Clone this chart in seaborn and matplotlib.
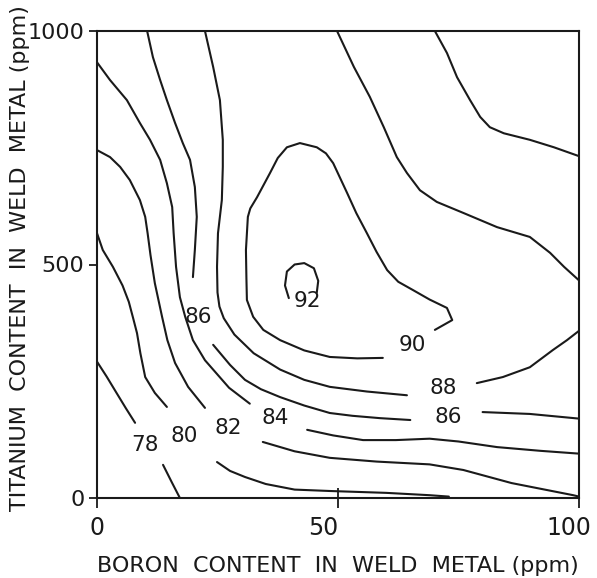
import matplotlib
matplotlib.use("Agg")
import matplotlib.pyplot as plt
import matplotlib.transforms as mtransforms
import numpy as np
import pandas as pd
import seaborn as sns

# ---- contour lines (boron ppm, titanium ppm) ----
# level 78
c78a_b = [0, 2, 3.7, 6, 7.9]
c78a_t = [292, 260, 231, 192, 161]
c78b_b = [13.7, 15.6, 17.2]
c78b_t = [71, 32, 0]
# level 80
c80a_b = [0, 1.2, 3.3, 5.3, 6.6, 7.5, 8.3, 9, 10, 12, 14.5]
c80a_t = [567, 531, 495, 455, 420, 385, 353, 310, 259, 225, 195]
c80b_b = [24.9, 27.6, 30.7, 35, 41, 48.3, 60, 69, 73]
c80b_t = [77, 58, 45, 30, 18, 15, 11, 6, 3]
# level 82
c82a_b = [0, 2.7, 4.8, 6.8, 8.9, 10, 10.5, 11.1, 12, 13.5, 14.6, 16.2, 18.9, 22.4]
c82a_t = [745, 730, 709, 681, 638, 602, 567, 520, 460, 388, 338, 289, 238, 193]
c82b_b = [34.4, 41, 48.3, 58, 69, 76, 86, 98.8, 100]
c82b_t = [120, 100, 86, 78, 72, 60, 32, 6, 3]
# level 84
c84a_b = [0, 2.7, 6.2, 8.9, 11, 13.1, 14.5, 15.6, 15.9, 16.4, 17.2, 18.3, 19.9, 22.4, 27.4, 31.7]
c84a_t = [933, 895, 852, 803, 767, 724, 674, 623, 567, 495, 430, 388, 338, 295, 236, 202]
c84b_b = [43.6, 49, 55.2, 62, 69, 75, 83, 92, 100]
c84b_t = [146, 134, 124, 124, 127, 121, 109, 101, 95]
# level 86
c86a_b = [10.4, 11.6, 13.1, 14.5, 16.2, 17.8, 19.3, 20.3, 20.7, 20.3, 19.9]
c86a_t = [1000, 944, 895, 852, 803, 760, 724, 666, 602, 531, 473]
c86b_b = [24.1, 27.6, 30.7, 34, 38, 43, 48.3, 53, 58.7, 65]
c86b_t = [328, 285, 253, 233, 216, 198, 182, 176, 171, 167]
c86c_b = [80, 89.8, 100]
c86c_t = [184, 180, 170]
c86d_b = [70.1, 72.6, 74.7, 77.4, 79.5, 81.5, 84.4, 89.8, 94.8, 100]
c86d_t = [1000, 953, 901, 852, 816, 794, 781, 767, 751, 732]
# level 88
c88a_b = [22.4, 24.1, 25.5, 26.1, 26.1, 25.9, 25.1, 24.9, 25, 25.4, 26.3, 28.5, 32.5, 38, 43, 48.3, 56, 64.3]
c88a_t = [1000, 923, 852, 767, 709, 638, 567, 495, 440, 410, 385, 350, 310, 275, 253, 238, 228, 220]
c88b_b = [78.8, 84.2, 89.8, 94.6, 97.5, 100]
c88b_t = [246, 259, 280, 317, 338, 358]
c88c_b = [49.8, 53.3, 56.6, 59.5, 62.2, 64.3, 67, 70.5, 76.1, 83, 89.8, 94, 96.9, 100]
c88c_t = [1000, 923, 859, 794, 730, 696, 659, 634, 610, 580, 559, 525, 495, 466]
# level 90
c90_b = [70.1, 73.7, 72.6, 69, 65.6, 62.5, 60.2, 58, 56, 53.8, 51.9, 49, 47.5, 45.6, 42.1,
         39.4, 37.5, 35.9, 33.2, 31.8, 31.3, 30.9, 31, 31.1, 32.4, 34.5, 38, 43, 48.3, 54, 59.3]
c90_t = [360, 381, 407, 425, 445, 463, 488, 527, 567, 610, 653, 717, 738, 751, 760,
         751, 728, 696, 644, 620, 602, 531, 470, 424, 388, 360, 338, 316, 302, 299, 300]
# level 92
c92_b = [39.8, 39, 39.4, 41, 43, 45, 45.9, 45.6]
c92_t = [428, 455, 485, 500, 503, 492, 465, 440]

# contour labels
label_text = ["78", "80", "82", "84", "86", "86", "88", "90", "92"]
label_b = [10, 18, 27.2, 36.9, 21, 72.8, 71.8, 65.4, 43.6]
label_t = [113, 133, 150, 171, 388, 173, 235, 328, 422]

x_ticks = [0, 50, 100]
y_ticks = [0, 500, 1000]

segments = {
    "78a": (c78a_b, c78a_t), "78b": (c78b_b, c78b_t),
    "80a": (c80a_b, c80a_t), "80b": (c80b_b, c80b_t),
    "82a": (c82a_b, c82a_t), "82b": (c82b_b, c82b_t),
    "84a": (c84a_b, c84a_t), "84b": (c84b_b, c84b_t),
    "86a": (c86a_b, c86a_t), "86b": (c86b_b, c86b_t),
    "86c": (c86c_b, c86c_t), "86d": (c86d_b, c86d_t),
    "88a": (c88a_b, c88a_t), "88b": (c88b_b, c88b_t), "88c": (c88c_b, c88c_t),
    "90": (c90_b, c90_t), "92": (c92_b, c92_t),
}
rows = []
for seg, (bs, ts) in segments.items():
    for i, (b, t) in enumerate(zip(bs, ts)):
        rows.append({"seg": seg, "order": i, "boron": b, "titanium": t})
df = pd.DataFrame(rows)

sns.set_theme(style="ticks")
plt.rcParams["font.family"] = ["DejaVu Sans"]

fig = plt.figure(figsize=(5.97, 5.78), dpi=100)
ax = fig.add_axes([97 / 597, 1 - 498 / 578, 482 / 597, 467 / 578])

ink = "#1a1a1a"
sns.lineplot(data=df, x="boron", y="titanium", units="seg", estimator=None,
             sort=False, color=ink, linewidth=1.5, legend=False, ax=ax)

for txt, b, t in zip(label_text, label_b, label_t):
    ax.text(b, t, txt, ha="center", va="center", fontsize=15.5, color=ink)

ax.set_xlim(0, 100)
ax.set_ylim(0, 1000)
ax.set_xticks(x_ticks)
ax.set_yticks(y_ticks)
ax.set_xticklabels([str(v) for v in x_ticks], fontsize=17, color=ink)
ax.set_yticklabels([str(v) for v in y_ticks], fontsize=16, color=ink)
ax.tick_params(axis="x", direction="inout", length=14, width=1.3, pad=6, colors=ink)
ax.tick_params(axis="y", direction="out", length=6, width=1.3, pad=3, colors=ink)
# hand-lettered x tick labels sit slightly left of their ticks
for lab, dx in zip(ax.get_xticklabels(), [0, -15, -10]):
    lab.set_transform(lab.get_transform() +
                      mtransforms.ScaledTranslation(dx / 100, 0, fig.dpi_scale_trans))
ax.set_xlabel("")
ax.set_ylabel("")
for sp in ax.spines.values():
    sp.set_visible(True)
    sp.set_linewidth(1.5)
    sp.set_color(ink)

fig.text(338 / 597, 1 - 566 / 578, "BORON  CONTENT  IN  WELD  METAL (ppm)",
         ha="center", va="center", fontsize=16, color=ink)
fig.text(20 / 597, 1 - 258 / 578, "TITANIUM  CONTENT  IN  WELD  METAL (ppm)",
         ha="center", va="center", rotation=90, fontsize=16, color=ink)

fig.savefig("out.png", dpi=100, facecolor="white")
